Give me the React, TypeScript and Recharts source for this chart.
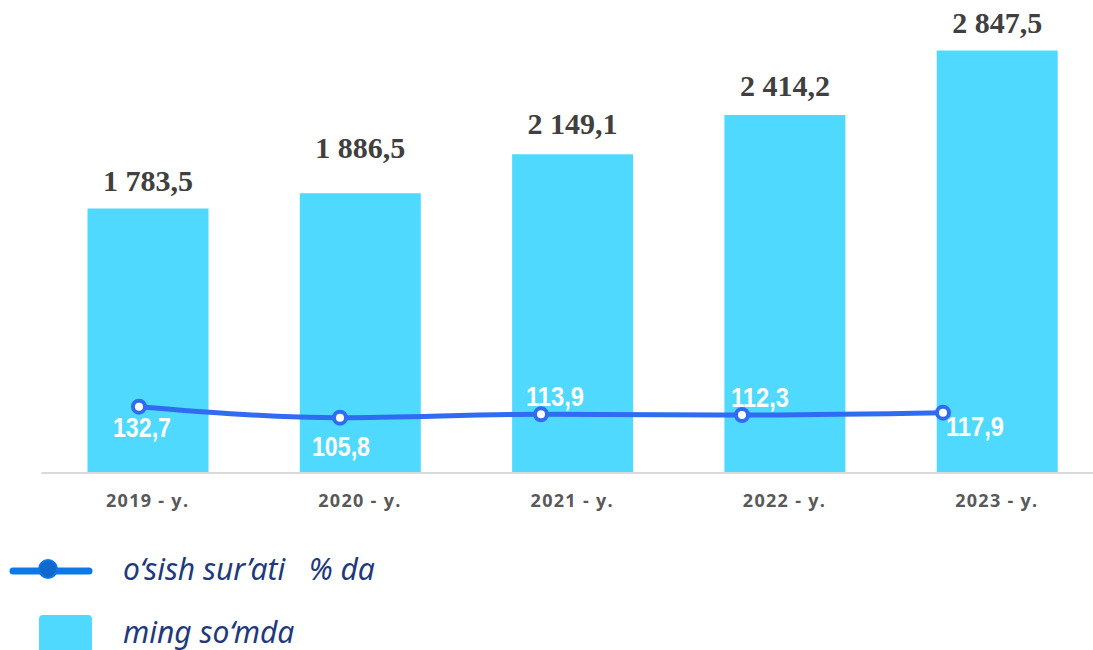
import React from "react";
import {
  ComposedChart,
  Bar,
  Line,
  XAxis,
  YAxis,
  LabelList,
} from "recharts";

// values
const years = ["2019 - y.", "2020 - y.", "2021 - y.", "2022 - y.", "2023 - y."];
const amountThousandSum = [1783.5, 1886.5, 2149.1, 2414.2, 2847.5];
const growthPercent = [132.7, 105.8, 113.9, 112.3, 117.9];

const BAR_COLOR = "#50d9ff";
const LINE_COLOR = "#2f6cf2";

// label placement tweaks (gap above bar, offset of the growth label from its point)
const barLabelGap = [17, 35, 20, 19, 18];
const lineLabelOffset: [number, number][] = [
  [3, 21],
  [1, 29],
  [14, -17],
  [18, -17],
  [32, 14],
];

const fmt = (v: number) => {
  const [int, dec] = v.toFixed(1).split(".");
  const grouped = int.replace(/\B(?=(\d{3})+(?!\d))/g, " ");
  return `${grouped},${dec}`;
};

const chartData = years.map((year, i) => ({
  year,
  idx: i,
  amount: amountThousandSum[i],
  growth: growthPercent[i],
}));

const BarValueLabel = (props: any) => {
  const { x, y, width, value, index } = props;
  return (
    <text
      x={x + width / 2}
      y={y - barLabelGap[index]}
      textAnchor="middle"
      fill="#404040"
      fontFamily="'Liberation Serif', serif"
      fontWeight="bold"
      fontSize={30}
    >
      {fmt(value)}
    </text>
  );
};

const GrowthLabel = (props: any) => {
  const { x, y, value, index } = props;
  const [dx, dy] = lineLabelOffset[index];
  return (
    <text
      x={x + dx}
      y={y + dy}
      textAnchor="middle"
      dominantBaseline="central"
      fill="#ffffff"
      fontFamily="'Liberation Sans', Arial, sans-serif"
      fontWeight="bold"
      fontSize={27}
      textLength={58}
      lengthAdjust="spacingAndGlyphs"
    >
      {fmt(value)}
    </text>
  );
};

const YearTick = (props: any) => {
  const { x, y, payload } = props;
  return (
    <text
      x={x}
      y={y + 19}
      textAnchor="middle"
      dominantBaseline="central"
      fill="#595959"
      fontFamily="'Open Sans', sans-serif"
      fontWeight="bold"
      fontSize={18}
      letterSpacing={1.3}
    >
      {payload.value}
    </text>
  );
};

const legendText: React.CSSProperties = {
  position: "absolute",
  left: 123,
  fontFamily: "'Noto Sans', sans-serif",
  fontStyle: "italic",
  fontSize: 30,
  color: "#1f3a7c",
  whiteSpace: "pre",
  lineHeight: "34px",
};

export default function App() {
  return (
    <div
      style={{
        position: "absolute",
        left: 0,
        top: 0,
        width: 1093,
        height: 650,
        overflow: "hidden",
        background: "#fff",
      }}
    >
      <ComposedChart
        width={1103}
        height={650}
        data={chartData}
        margin={{ top: 28, right: 0, left: 41.5, bottom: 137 }}
      >
        <XAxis
          dataKey="year"
          height={40}
          tickLine={false}
          axisLine={{ stroke: "#d9d9d9", strokeWidth: 2 }}
          tick={<YearTick />}
          interval={0}
        />
        <XAxis
          xAxisId="line"
          type="number"
          dataKey="idx"
          domain={[-0.485, 4.796]}
          allowDataOverflow
          hide
        />
        <YAxis yAxisId="left" domain={[0, 3000]} hide />
        <YAxis yAxisId="right" domain={[-29.4, 1057.6]} hide />
        <Bar
          dataKey="amount"
          yAxisId="left"
          fill={BAR_COLOR}
          barSize={121}
          isAnimationActive={false}
        >
          <LabelList dataKey="amount" content={<BarValueLabel />} />
        </Bar>
        <Line
          dataKey="growth"
          xAxisId="line"
          yAxisId="right"
          type="monotone"
          stroke={LINE_COLOR}
          strokeWidth={5}
          dot={{ r: 6, fill: "#ffffff", stroke: LINE_COLOR, strokeWidth: 4 }}
          isAnimationActive={false}
        >
          <LabelList dataKey="growth" content={<GrowthLabel />} />
        </Line>
      </ComposedChart>

      {/* legend */}
      <svg
        width={100}
        height={120}
        style={{ position: "absolute", left: 0, top: 540 }}
      >
        <line
          x1={13}
          y1={31}
          x2={89}
          y2={31}
          stroke="#0f78e8"
          strokeWidth={7}
          strokeLinecap="round"
        />
        <circle cx={48} cy={29} r={9} fill="#1068cc" stroke="#0f78e8" strokeWidth={2} />
        <rect x={39} y={75} width={53} height={40} rx={4} fill={BAR_COLOR} />
      </svg>
      <div style={{ ...legendText, top: 552 }}>{"o‘sish sur’ati   % da"}</div>
      <div style={{ ...legendText, top: 615 }}>{"ming so‘mda"}</div>
    </div>
  );
}
